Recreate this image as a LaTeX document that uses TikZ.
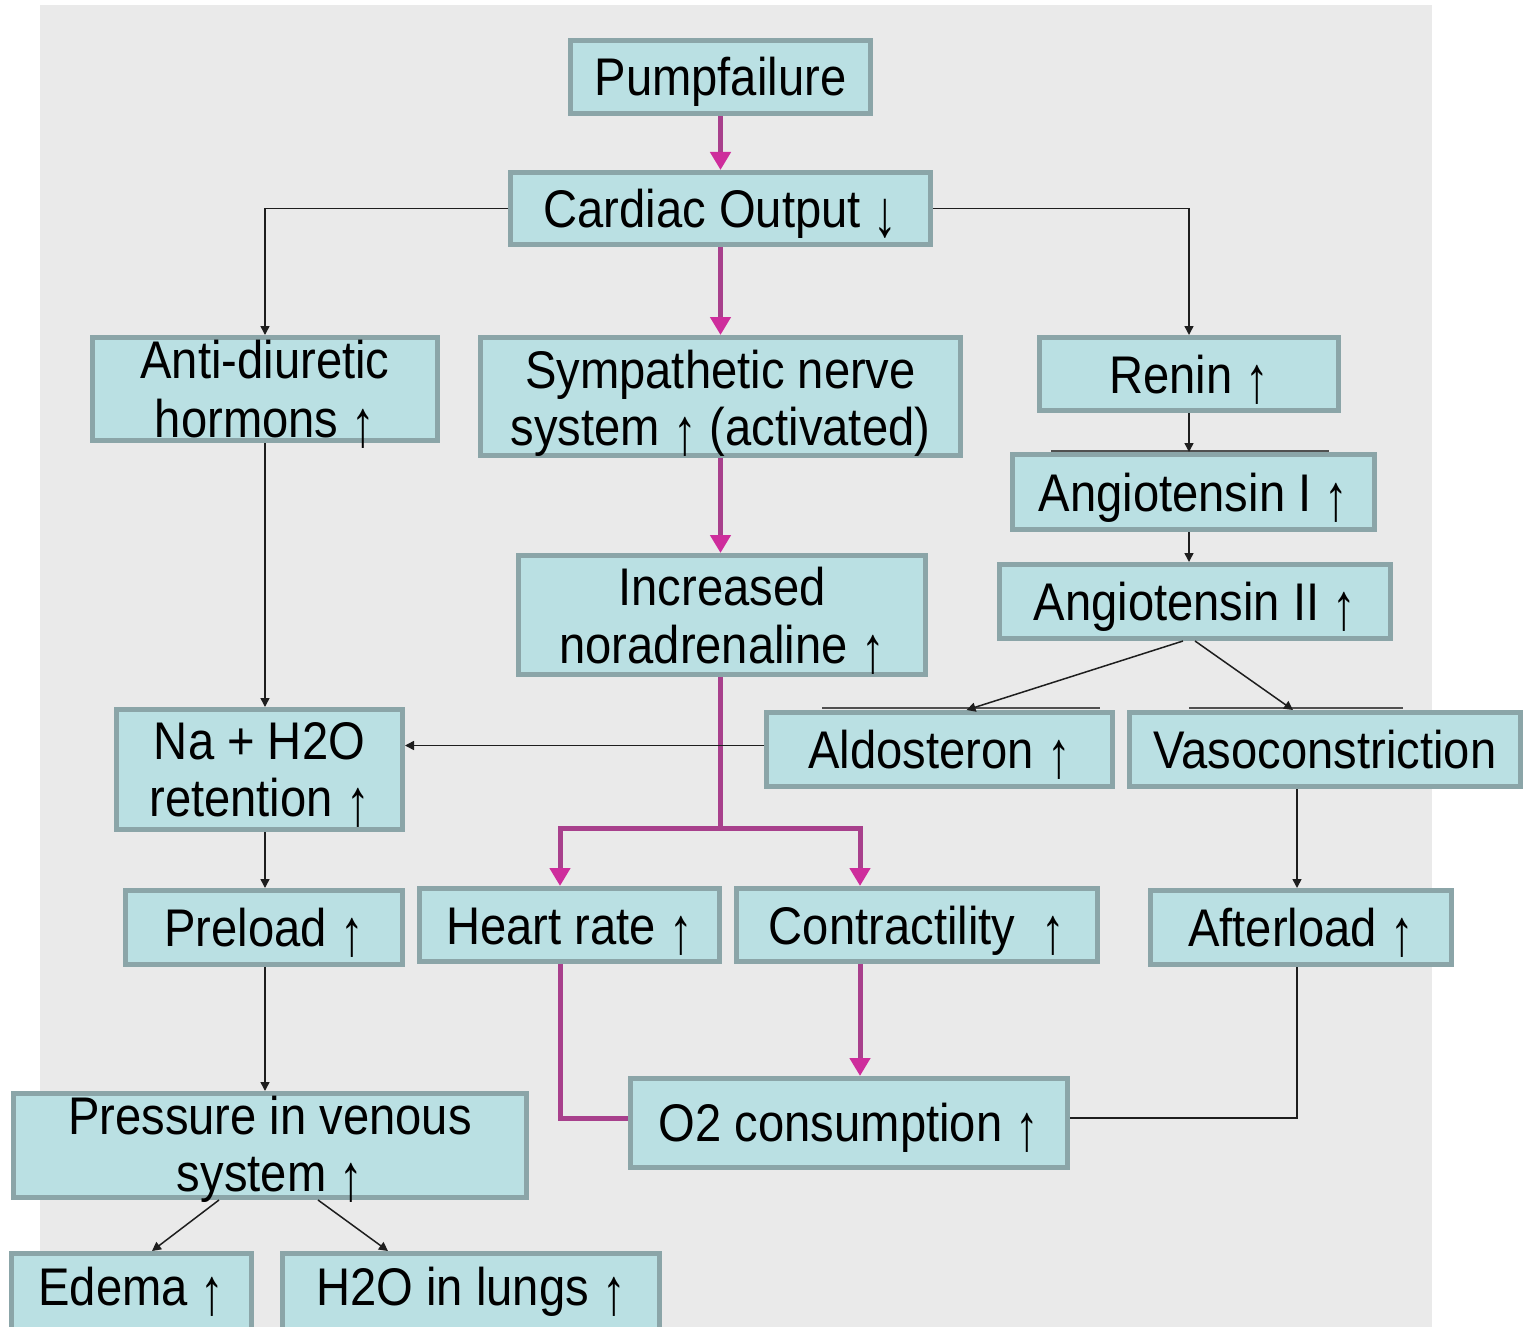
\documentclass[tikz,border=0pt]{standalone}
\usepackage{graphicx}
\usepackage{fontspec}
\setmainfont{Liberation Sans}[FakeStretch=0.89]
\usetikzlibrary{arrows.meta,calc}
\newcommand\upar{\raisebox{-0.17em}{\scalebox{1}[1.25]{↑}}}
\newcommand\dnar{\raisebox{-0.17em}{\scalebox{1}[1.25]{↓}}}
\definecolor{bggray}{RGB}{234,234,234}
\definecolor{boxfill}{RGB}{186,224,227}
\definecolor{boxborder}{RGB}{139,165,168}
\definecolor{magline}{RGB}{168,64,140}
\definecolor{magtip}{RGB}{206,45,156}
\definecolor{thinline}{RGB}{30,30,30}
\definecolor{artline}{RGB}{80,80,80}
\tikzset{
  box/.style={draw=boxborder, fill=boxfill, line width=5pt, inner sep=0pt, rectangle},
  txt/.style={font=\fontsize{53}{57}\selectfont, inner sep=0pt, anchor=base, text=black},
  magarrow/.style={draw=magline, line width=5pt, -{Triangle[width=20pt,length=18pt,color=magtip]}},
  magplain/.style={draw=magline, line width=5pt},
  blkarrow/.style={draw=thinline, line width=1.5pt, -{Triangle[width=9pt,length=9pt]}},
  blkplain/.style={draw=thinline, line width=1.5pt},
  artifact/.style={draw=artline, line width=1.5pt}
}
\begin{document}
\begin{tikzpicture}[x=1pt,y=-1pt]
\clip (0,0) rectangle (1524,1327);
\fill[white] (0,0) rectangle (1524,1327);
\fill[bggray] (40,5) rectangle (1432,1327);

% thin artifact lines above some boxes
\coordinate (a1l) at (1051,451); \coordinate (a1r) at (1329,451);
\coordinate (a2l) at (822,708);  \coordinate (a2r) at (1100,708);
\coordinate (a3l) at (1189,708); \coordinate (a3r) at (1403,708);
\draw[artifact] (a1l) -- (a1r);
\draw[artifact] (a2l) -- (a2r);
\draw[artifact] (a3l) -- (a3r);

% boxes
\node[box, minimum width=300pt, minimum height=73pt] (pump) at (720.5,77) {};
\node[box, minimum width=420pt, minimum height=72pt] (cardiac) at (720.5,208.5) {};
\node[box, minimum width=345pt, minimum height=103pt] (adh) at (265,389) {};
\node[box, minimum width=480pt, minimum height=118pt] (symp) at (720.5,396.5) {};
\node[box, minimum width=299pt, minimum height=73pt] (renin) at (1189,374) {};
\node[box, minimum width=362pt, minimum height=75pt] (ang1) at (1193.5,492) {};
\node[box, minimum width=391pt, minimum height=74pt] (ang2) at (1195,601.5) {};
\node[box, minimum width=407pt, minimum height=119pt] (nor) at (722,615) {};
\node[box, minimum width=286pt, minimum height=120pt] (na) at (259.5,769.5) {};
\node[box, minimum width=346pt, minimum height=74pt] (aldo) at (939.5,749.5) {};
\node[box, minimum width=391pt, minimum height=74pt] (vaso) at (1325,749.5) {};
\node[box, minimum width=277pt, minimum height=74pt] (pre) at (264,927.5) {};
\node[box, minimum width=300pt, minimum height=73pt] (hr) at (569.5,925) {};
\node[box, minimum width=361pt, minimum height=73pt] (con) at (917,925) {};
\node[box, minimum width=301pt, minimum height=74pt] (after) at (1301,927.5) {};
\node[box, minimum width=437pt, minimum height=89pt] (o2) at (849,1123) {};
\node[box, minimum width=513pt, minimum height=104pt] (press) at (270,1145.5) {};
\node[box, minimum width=240pt, minimum height=76pt] (edema) at (131.5,1291.5) {};
\node[box, minimum width=377pt, minimum height=76pt] (lungs) at (471,1291.5) {};

% texts
\node[txt] (pump-t) at (720.5,96) {Pumpfailure};
\node[txt] (cardiac-t) at (720.5,227.5) {Cardiac Output \dnar};
\node[txt] (adh-t1) at (265,378) {Anti-diuretic};
\node[txt] (adh-t2) at (265,437) {hormons \upar};
\node[txt] (symp-t1) at (720.5,388) {Sympathetic nerve};
\node[txt] (symp-t2) at (720.5,445) {system \upar{} (activated)};
\node[txt] (renin-t) at (1189,393) {Renin \upar};
\node[txt] (ang1-t) at (1193.5,511) {Angiotensin I \upar};
\node[txt] (ang2-t) at (1195,620.5) {Angiotensin II \upar};
\node[txt] (nor-t1) at (722,605) {Increased};
\node[txt] (nor-t2) at (722,663) {noradrenaline \upar};
\node[txt] (na-t1) at (259.5,759) {Na + H2O};
\node[txt] (na-t2) at (259.5,816) {retention \upar};
\node[txt] (aldo-t) at (939.5,768.5) {Aldosteron \upar};
\node[txt] (vaso-t) at (1325,768.5) {Vasoconstriction};
\node[txt] (pre-t) at (264,946.5) {Preload \upar};
\node[txt] (hr-t) at (569.5,944) {Heart rate \upar};
\node[txt] (con-t) at (917,944) {Contractility\ \ \upar};
\node[txt] (after-t) at (1301,946.5) {Afterload \upar};
\node[txt] (o2-t) at (849,1141) {O2 consumption \upar};
\node[txt] (press-t1) at (270,1134) {Pressure in venous};
\node[txt] (press-t2) at (270,1191) {system \upar};
\node[txt] (edema-t) at (131.5,1305) {Edema \upar};
\node[txt] (lungs-t) at (471,1305) {H2O in lungs \upar};

% magenta connectors
\draw[magarrow] (pump.south) -- (cardiac.north);
\draw[magarrow] (cardiac.south) -- (symp.north);
\draw[magarrow] (symp.south) -- (symp.south |- nor.north);
\coordinate (split) at (720.5,828);
\draw[magplain] (nor.south -| split) -- (split);
\draw[magarrow] (split) -| ([xshift=-9.5pt]hr.north);
\draw[magarrow] (split) -| ([xshift=-57pt]con.north);
\draw[magplain] ([xshift=-9.5pt]hr.south) |- ([yshift=5pt]o2.west);
\draw[magarrow] ([xshift=-57pt]con.south) -- ([xshift=-57pt]con.south |- o2.north);

% thin black connectors
\draw[blkarrow] (cardiac.west) -| (adh.north);
\draw[blkarrow] (cardiac.east) -| (renin.north);
\draw[blkarrow] (renin.south) -- (renin.south |- ang1.north);
\draw[blkarrow] (ang1.south -| renin.south) -- (ang2.north -| renin.south);
\draw[blkarrow] ([xshift=-12pt]ang2.south) -- ([xshift=27pt]aldo.north);
\draw[blkarrow] (ang2.south) -- ([xshift=-32pt]vaso.north);
\draw[blkarrow] ([yshift=4pt]aldo.west) -- ([yshift=4pt]aldo.west -| na.east);
\draw[blkarrow] (adh.south) -- (adh.south |- na.north);
\draw[blkarrow] (na.south -| adh.south) -- (pre.north -| adh.south);
\draw[blkarrow] (pre.south -| adh.south) -- (press.north -| adh.south);
\draw[blkarrow] ([xshift=-51pt]press.south) -- ([xshift=20.5pt]edema.north);
\draw[blkarrow] ([xshift=48pt]press.south) -- ([xshift=-83pt]lungs.north);
\draw[blkarrow] ([xshift=-28pt]vaso.south) -- ([xshift=-28pt]vaso.south |- after.north);
\draw[blkplain] ([xshift=-4pt]after.south) |- ([yshift=5pt]o2.east);
\end{tikzpicture}
\end{document}
